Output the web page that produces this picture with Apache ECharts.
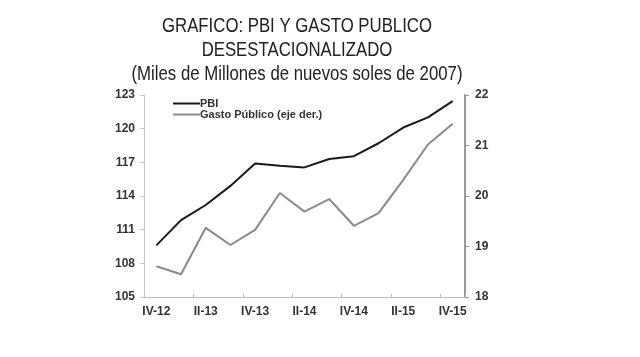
<!DOCTYPE html>
<html>
<head>
<meta charset="utf-8">
<script src="https://cdn.jsdelivr.net/npm/echarts@6/dist/echarts.min.js"></script>
<style>html,body{margin:0;padding:0;background:#fff;}#c{width:640px;height:357px;}</style>
</head>
<body>
<div id="c"></div>
<script>
var categories = ['IV-12','I-13','II-13','III-13','IV-13','I-14','II-14','III-14','IV-14','I-15','II-15','III-15','IV-15'];
var pbi = [109.6, 111.85, 113.2, 114.9, 116.9, 116.7, 116.55, 117.3, 117.55, 118.7, 120.1, 121.0, 122.45];
var gasto = [18.61, 18.45, 19.37, 19.03, 19.33, 20.06, 19.69, 19.94, 19.41, 19.66, 20.32, 21.02, 21.43];
var leftTicks = [105, 123, 3];
var rightTicks = [18, 22, 1];
var titleLines = ['GRAFICO: PBI Y GASTO PUBLICO', 'DESESTACIONALIZADO', '(Miles de Millones de nuevos soles de 2007)'];

var chart = echarts.init(document.getElementById('c'), null, {renderer: 'canvas'});
var sans = "'Liberation Sans', Arial, sans-serif";
var labelFont = {color: '#333', fontSize: 12, fontWeight: 'bold', fontFamily: sans};
var titleY = [27, 51, 75];
chart.setOption({
  animation: false,
  backgroundColor: '#fff',
  graphic: titleLines.map(function (t, i) {
    return {
      type: 'text', x: 297, y: titleY[i], scaleX: 0.86, scaleY: 1,
      style: {text: t, fill: '#222', font: 'normal 19.5px ' + sans, textAlign: 'center', textVerticalAlign: 'middle'}
    };
  }),
  legend: {
    orient: 'vertical', left: 168, top: 93, itemWidth: 27, itemHeight: 2, itemGap: 0,
    icon: 'rect',
    textStyle: {color: '#333', fontSize: 11, fontWeight: 'bold', fontFamily: sans, lineHeight: 10.5, padding: [0,0,0,-5]},
    data: ['PBI', 'Gasto Público (eje der.)']
  },
  grid: {left: 144, right: 175, top: 95, bottom: 60},
  xAxis: {
    type: 'category', data: categories, boundaryGap: true,
    axisLine: {lineStyle: {color: '#bbb', width: 1}},
    axisTick: {show: true, inside: true, length: 3, lineStyle: {color: '#bbb'}},
    axisLabel: Object.assign({interval: 1, margin: 9}, labelFont),
    splitLine: {show: false}
  },
  yAxis: [{
    type: 'value', min: leftTicks[0], max: leftTicks[1], interval: leftTicks[2],
    axisLine: {show: true, lineStyle: {color: '#c8c8c8', width: 1}},
    axisTick: {show: true, length: 4, lineStyle: {color: '#c8c8c8'}},
    axisLabel: Object.assign({margin: 9}, labelFont),
    splitLine: {show: false}
  }, {
    type: 'value', position: 'right', min: rightTicks[0], max: rightTicks[1], interval: rightTicks[2],
    axisLine: {show: true, lineStyle: {color: '#999', width: 2}},
    axisTick: {show: true, length: 4, lineStyle: {color: '#999'}},
    axisLabel: Object.assign({margin: 10}, labelFont),
    splitLine: {show: false}
  }],
  series: [{
    name: 'PBI', type: 'line', data: pbi, yAxisIndex: 0, symbol: 'none',
    lineStyle: {color: '#1a1a1a', width: 2}, itemStyle: {color: '#1a1a1a'}
  }, {
    name: 'Gasto Público (eje der.)', type: 'line', data: gasto, yAxisIndex: 1, symbol: 'none',
    lineStyle: {color: '#8a8a8a', width: 2}, itemStyle: {color: '#8a8a8a'}
  }]
});
</script>
</body>
</html>
